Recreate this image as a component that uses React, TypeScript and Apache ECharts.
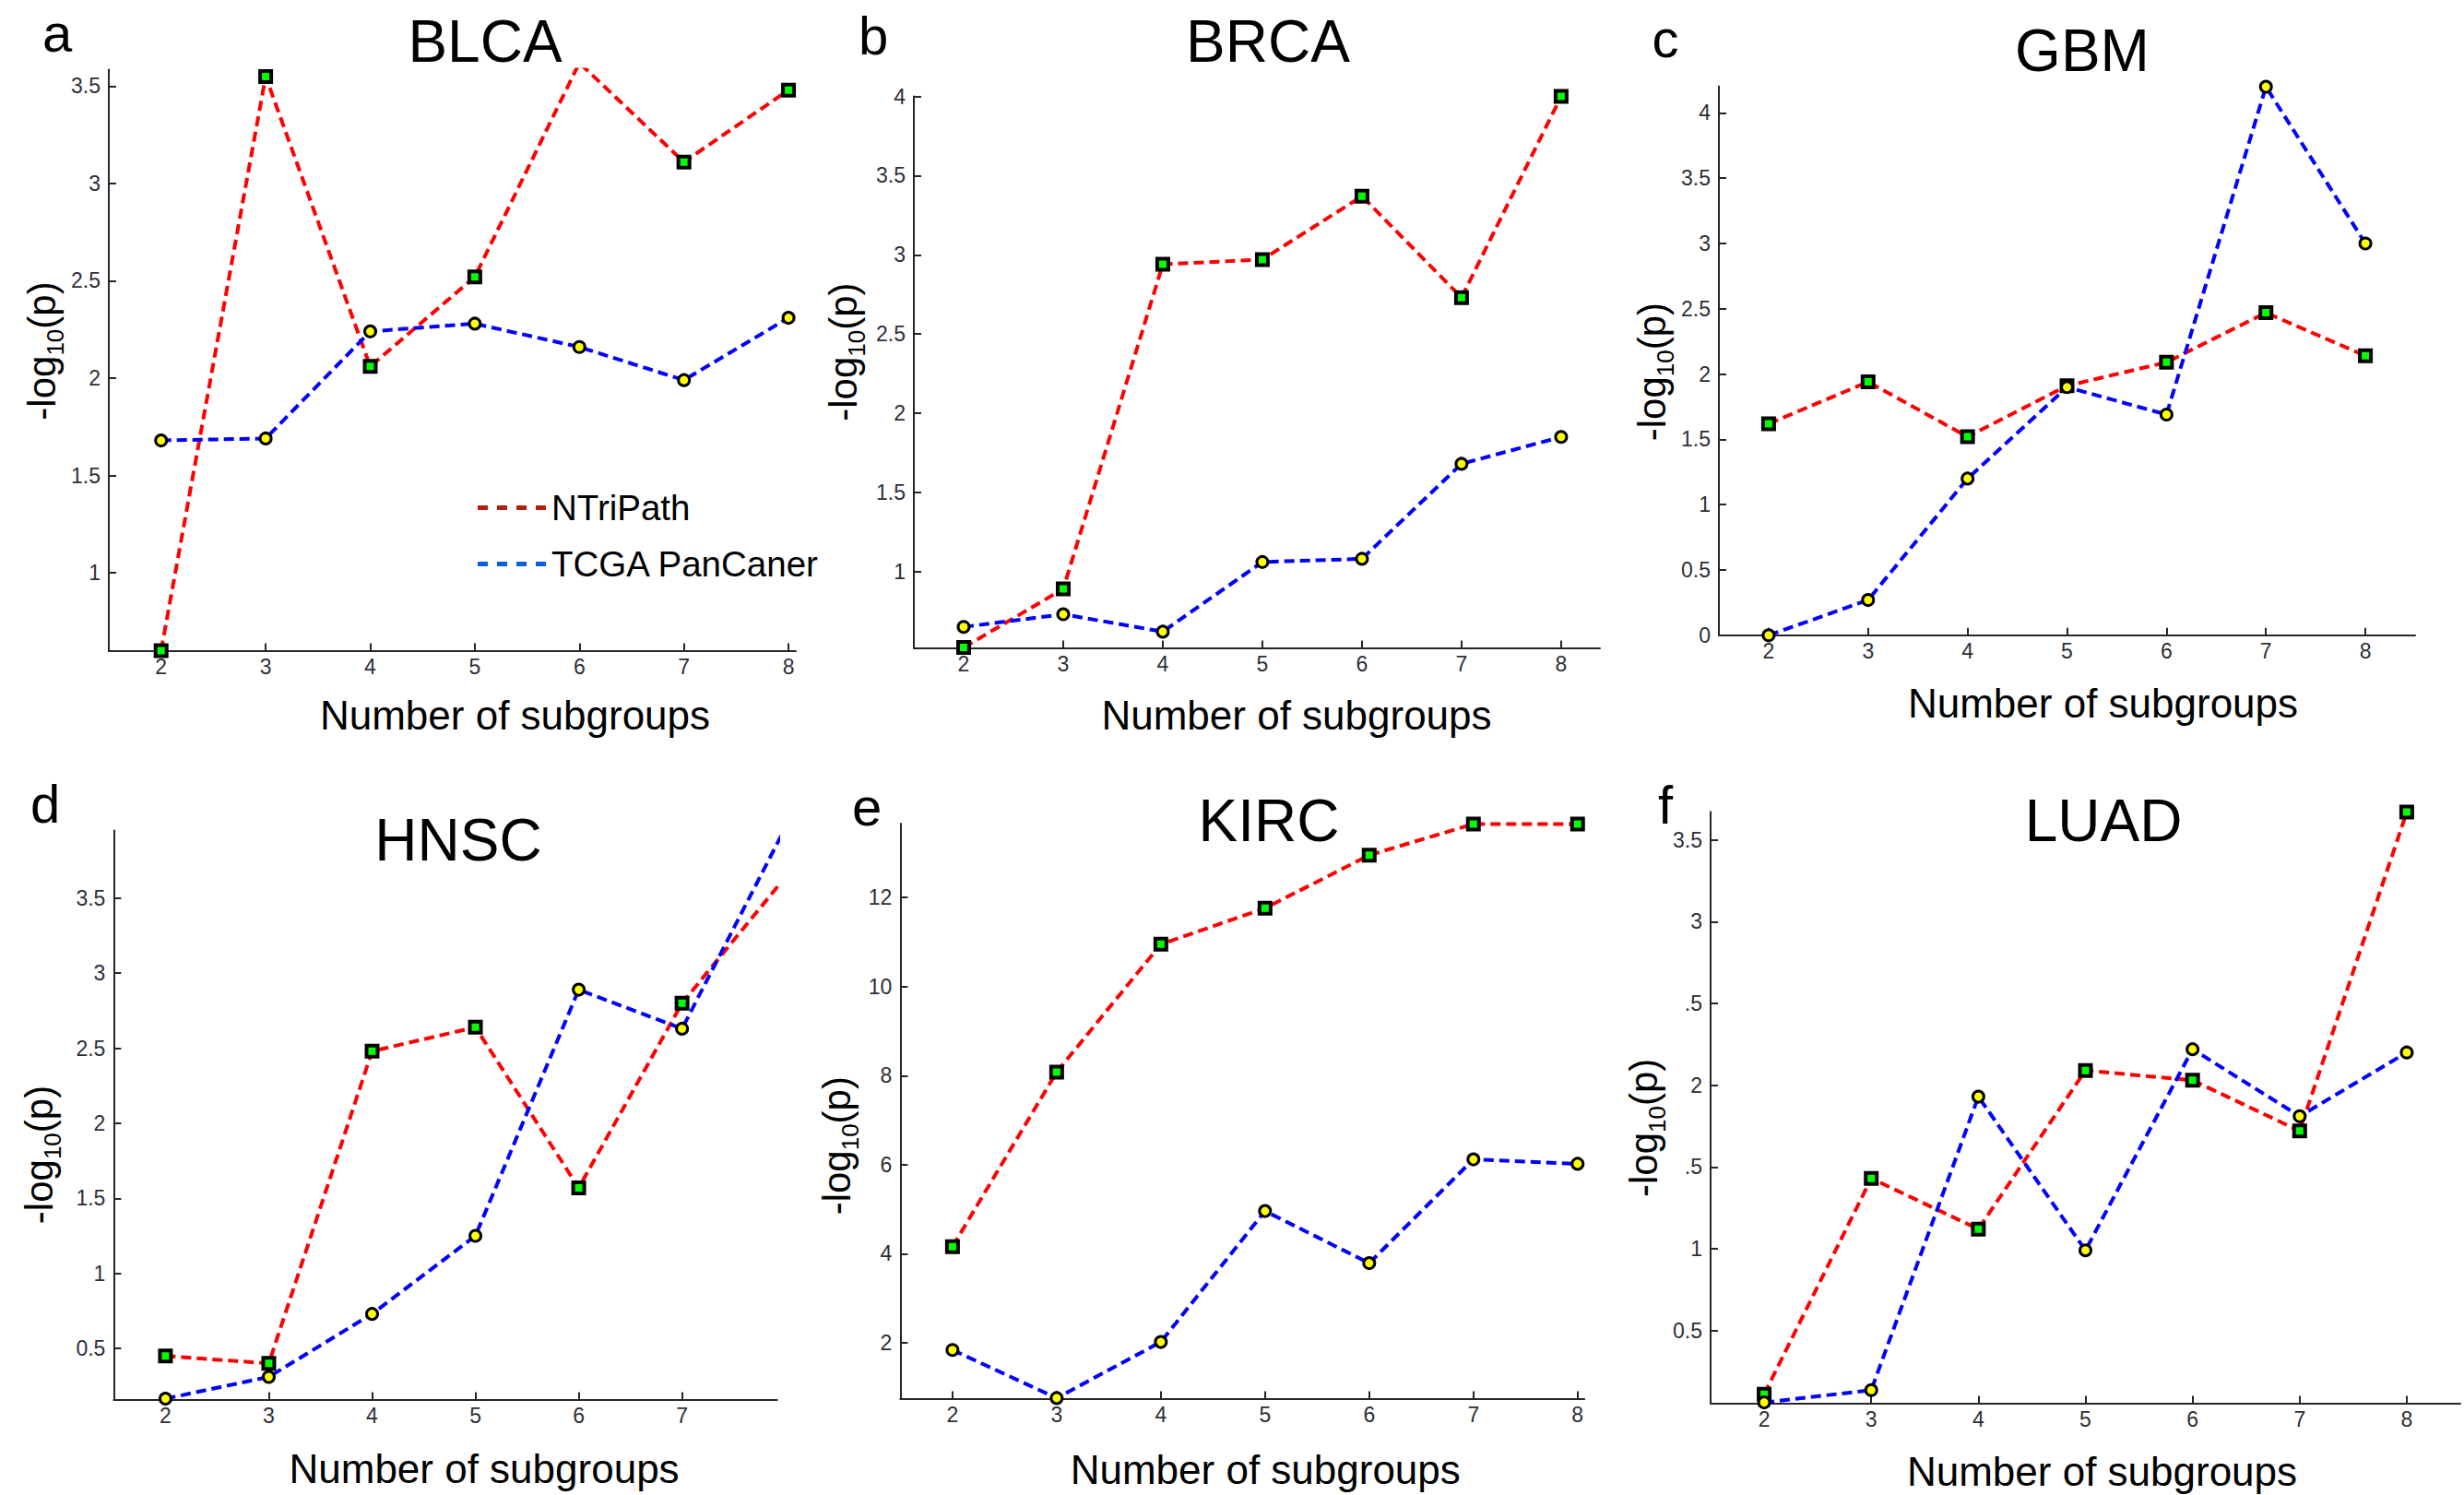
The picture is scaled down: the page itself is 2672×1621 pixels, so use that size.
import React, { useEffect, useRef } from "react";
import * as echarts from "echarts";

// ---------- data ----------
const subgroups = [2, 3, 4, 5, 6, 7, 8];
const seriesNames = ["NTriPath", "TCGA PanCaner"];
const panelTitles = ["BLCA", "BRCA", "GBM", "HNSC", "KIRC", "LUAD"];
const panelLetters = ["a", "b", "c", "d", "e", "f"];

const blcaNTriPath = [0.6, 3.55, 2.06, 2.52, 3.62, 3.11, 3.48];
const blcaTCGA = [1.68, 1.69, 2.24, 2.28, 2.16, 1.99, 2.31];
const brcaNTriPath = [0.52, 0.89, 2.94, 2.97, 3.37, 2.73, 4.0];
const brcaTCGA = [0.65, 0.73, 0.62, 1.06, 1.08, 1.68, 1.85];
const gbmNTriPath = [1.62, 1.94, 1.52, 1.91, 2.09, 2.47, 2.14];
const gbmTCGA = [0.0, 0.27, 1.2, 1.9, 1.69, 4.2, 3.0];
const hnscNTriPath = [0.45, 0.4, 2.48, 2.64, 1.57, 2.8, 3.64];
const hnscTCGA = [0.165, 0.31, 0.73, 1.25, 2.89, 2.63, 3.97];
const kircNTriPath = [4.16, 8.08, 10.95, 11.76, 12.95, 13.65, 13.65];
const kircTCGA = [1.84, 0.76, 2.02, 4.96, 3.79, 6.12, 6.02];
const luadNTriPath = [0.11, 1.43, 1.12, 2.09, 2.03, 1.72, 3.67];
const luadTCGA = [0.06, 0.135, 1.93, 0.99, 2.22, 1.81, 2.2];

const xTicksFull = [2, 3, 4, 5, 6, 7, 8];
const xTicksHNSC = [2, 3, 4, 5, 6, 7];
const yTicksBLCA = [1, 1.5, 2, 2.5, 3, 3.5];
const yTicksBRCA = [1, 1.5, 2, 2.5, 3, 3.5, 4];
const yTicksGBM = [0, 0.5, 1, 1.5, 2, 2.5, 3, 3.5, 4];
const yTicksHNSC = [0.5, 1, 1.5, 2, 2.5, 3, 3.5];
const yTicksKIRC = [2, 4, 6, 8, 10, 12];
const yTicksLUAD = [0.5, 1, 1.5, 2, 2.5, 3, 3.5];
const yTickLabelsLUAD = ["0.5", "1", ".5", "2", ".5", "3", "3.5"];

const xAxisName = "Number of subgroups";
const yAxisName = "-log{sub|10}(p)";

// ---------- layout / style ----------
const FONT = 'Arial, "Liberation Sans", Helvetica, sans-serif';
const AXIS_COLOR = "#262626";
const TICK_LABEL_COLOR = "#2e2e36";

const panels = [
  {
    nt: blcaNTriPath, tc: blcaTCGA, xTicks: xTicksFull, yTicks: yTicksBLCA, yLabels: null as string[] | null,
    grid: { left: 118, top: 75.5, width: 745, height: 630 },
    xMax: 8.07, yMin: 0.6, yMax: 3.585,
    xNameShift: 68, xNameGap: 48, yNameGap: 39, yNamePad: [0, 0, 0, 20],
    title: [526, 44.6], letter: [62, 35],
  },
  {
    nt: brcaNTriPath, tc: brcaTCGA, xTicks: xTicksFull, yTicks: yTicksBRCA, yLabels: null,
    grid: { left: 991, top: 104.6, width: 744, height: 598 },
    xMax: 8.39, yMin: 0.517, yMax: 4.0,
    xNameShift: 43, xNameGap: 51, yNameGap: 49, yNamePad: [0, 0, 0, 44],
    title: [1375, 44.6], letter: [947, 38],
  },
  {
    nt: gbmNTriPath, tc: gbmTCGA, xTicks: xTicksFull, yTicks: yTicksGBM, yLabels: null,
    grid: { left: 1864, top: 93.4, width: 755, height: 595.4 },
    xMax: 8.5, yMin: 0, yMax: 4.205,
    xNameShift: 39, xNameGap: 52, yNameGap: 35, yNamePad: [0, 24, 0, 0],
    title: [2258, 55.4], letter: [1806, 41],
  },
  {
    nt: hnscNTriPath, tc: hnscTCGA, xTicks: xTicksHNSC, yTicks: yTicksHNSC, yLabels: null,
    grid: { left: 123.4, top: 900.6, width: 719.3, height: 616.8 },
    xMax: 7.92, yMin: 0.16, yMax: 3.95,
    xNameShift: 42, xNameGap: 53, yNameGap: 53, yNamePad: [0, 86, 0, 0],
    title: [497, 911], letter: [49, 871],
  },
  {
    nt: kircNTriPath, tc: kircTCGA, xTicks: xTicksFull, yTicks: yTicksKIRC, yLabels: null,
    grid: { left: 976.4, top: 893, width: 741.7, height: 623.4 },
    xMax: 8.065, yMin: 0.75, yMax: 13.66,
    xNameShift: 25, xNameGap: 55, yNameGap: 41, yNamePad: [0, 75, 0, 0],
    title: [1376, 890], letter: [940, 874],
  },
  {
    nt: luadNTriPath, tc: luadTCGA, xTicks: xTicksFull, yTicks: yTicksLUAD, yLabels: yTickLabelsLUAD,
    grid: { left: 1855, top: 880.2, width: 813, height: 641.3 },
    xMax: 8.5, yMin: 0.055, yMax: 3.672,
    xNameShift: 18, xNameGap: 52, yNameGap: 27, yNamePad: [0, 44, 0, 0],
    title: [2281, 890], letter: [1806, 872],
  },
];

function buildOption() {
  const grid: any[] = [];
  const xAxis: any[] = [];
  const yAxis: any[] = [];
  const series: any[] = [];
  const title: any[] = [];

  panels.forEach((p, i) => {
    grid.push({ ...p.grid, containLabel: false });

    xAxis.push({
      type: "value",
      gridIndex: i,
      min: 1.5,
      max: p.xMax,
      splitLine: { show: false },
      axisLine: { show: true, onZero: false, lineStyle: { color: AXIS_COLOR, width: 2 } },
      axisTick: { show: true, inside: true, length: 8, customValues: p.xTicks, lineStyle: { color: AXIS_COLOR, width: 2 } },
      axisLabel: { customValues: p.xTicks, margin: 6, fontSize: 23, color: TICK_LABEL_COLOR, fontFamily: FONT },
      name: xAxisName,
      nameLocation: "middle",
      nameGap: p.xNameGap,
      nameTextStyle: { fontSize: 44, color: "#000", fontFamily: FONT, padding: [0, 0, 0, p.xNameShift * 2] },
    });

    const labels = p.yLabels;
    const ticks = p.yTicks;
    yAxis.push({
      type: "value",
      gridIndex: i,
      min: p.yMin,
      max: p.yMax,
      splitLine: { show: false },
      axisLine: { show: true, onZero: false, lineStyle: { color: AXIS_COLOR, width: 2 } },
      axisTick: { show: true, inside: true, length: 8, customValues: p.yTicks, lineStyle: { color: AXIS_COLOR, width: 2 } },
      axisLabel: {
        customValues: p.yTicks,
        margin: 9,
        fontSize: 23,
        color: TICK_LABEL_COLOR,
        fontFamily: FONT,
        formatter: (v: number) => {
          if (labels) {
            const k = ticks.findIndex((t) => Math.abs(t - v) < 1e-9);
            if (k >= 0) return labels[k];
          }
          return String(v);
        },
      },
      name: yAxisName,
      nameLocation: "middle",
      nameRotate: 90,
      nameGap: p.yNameGap,
      nameTextStyle: {
        fontSize: 42,
        lineHeight: 56,
        color: "#000",
        fontFamily: FONT,
        padding: p.yNamePad,
        rich: {
          sub: { fontSize: 26, lineHeight: 26, verticalAlign: "bottom", color: "#000", fontFamily: FONT },
        },
      },
    });

    series.push({
      type: "line",
      name: seriesNames[0],
      xAxisIndex: i,
      yAxisIndex: i,
      data: subgroups.map((x, j) => [x, p.nt[j]]),
      symbol: "rect",
      symbolSize: 12,
      showSymbol: true,
      showAllSymbol: true,
      clip: true,
      itemStyle: { color: "#00ff00", borderColor: "#000000", borderWidth: 4 },
      lineStyle: { color: "#ff0000", width: 4, type: [11, 6] },
      emphasis: { disabled: true },
    });
    series.push({
      type: "line",
      name: seriesNames[1],
      xAxisIndex: i,
      yAxisIndex: i,
      data: subgroups.map((x, j) => [x, p.tc[j]]),
      symbol: "circle",
      symbolSize: 12,
      showSymbol: true,
      showAllSymbol: true,
      clip: true,
      itemStyle: { color: "#ffff00", borderColor: "#000000", borderWidth: 3 },
      lineStyle: { color: "#0000ff", width: 4, type: [11, 6] },
      emphasis: { disabled: true },
    });

    title.push({
      text: panelTitles[i],
      left: p.title[0],
      top: p.title[1],
      textAlign: "center",
      textVerticalAlign: "middle",
      padding: 0,
      textStyle: { fontSize: 64, fontWeight: "normal", color: "#000", fontFamily: FONT },
    });
    title.push({
      text: panelLetters[i],
      left: p.letter[0],
      top: p.letter[1],
      textAlign: "center",
      textVerticalAlign: "middle",
      padding: 0,
      textStyle: { fontSize: 58, fontWeight: "normal", color: "#000", fontFamily: FONT },
    });
  });

  const dashIcon = "path://M0,0h11v5h-11zM21,0h11v5h-11zM42,0h11v5h-11zM63,0h11v5h-11z";

  return {
    animation: false,
    backgroundColor: "#ffffff",
    title,
    grid,
    xAxis,
    yAxis,
    series,
    legend: {
      left: 518,
      top: 531,
      orient: "vertical",
      padding: 0,
      itemGap: 22,
      itemWidth: 76,
      itemHeight: 5,
      selectedMode: false,
      icon: dashIcon,
      textStyle: { fontSize: 38.5, color: "#000", fontFamily: FONT },
      data: [
        { name: seriesNames[0], itemStyle: { color: "#b41e10", borderWidth: 0, borderColor: "transparent" } },
        { name: seriesNames[1], itemStyle: { color: "#0c5fdc", borderWidth: 0, borderColor: "transparent" } },
      ],
    },
  };
}

export default function App() {
  const ref = useRef<HTMLDivElement>(null);
  useEffect(() => {
    if (!ref.current) return;
    const chart = echarts.init(ref.current, null, { renderer: "svg" });
    chart.setOption(buildOption() as any);
    return () => chart.dispose();
  }, []);
  return (
    <div
      ref={ref}
      style={{ position: "absolute", left: 0, top: 0, width: 2672, height: 1621, background: "#fff" }}
    />
  );
}
